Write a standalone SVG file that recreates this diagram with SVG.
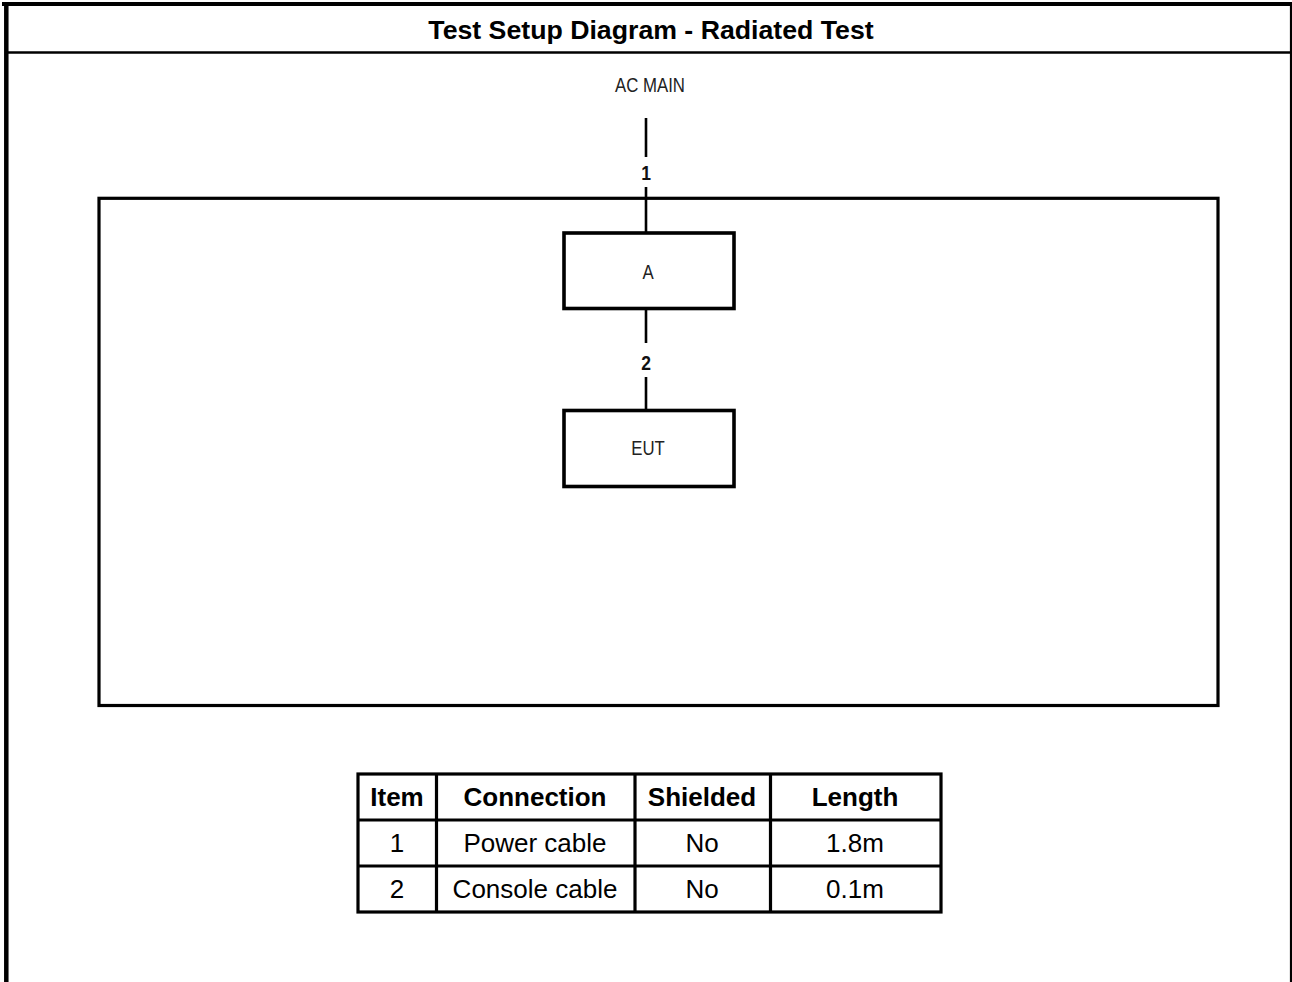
<svg xmlns="http://www.w3.org/2000/svg" width="1292" height="982" viewBox="0 0 1292 982">
<style>
.frame{stroke:#000;fill:none}
.box{fill:#fff;stroke:#000;stroke-width:3.6}
.wire{stroke:#000;stroke-width:2.6;fill:none}
.lbl{font-family:"Liberation Sans",Arial,sans-serif;font-size:16.8px;fill:#222;text-anchor:middle}
.num{font-family:"Liberation Sans",Arial,sans-serif;font-size:17.5px;font-weight:bold;fill:#111;text-anchor:middle}
.title{font-family:"Liberation Sans",Arial,sans-serif;font-size:26.7px;font-weight:bold;fill:#000;text-anchor:middle}
.th{font-family:"Liberation Sans",Arial,sans-serif;font-size:26px;font-weight:bold;fill:#000;text-anchor:middle}
.td{font-family:"Liberation Sans",Arial,sans-serif;font-size:26px;fill:#000;text-anchor:middle}
.tl{stroke:#000;stroke-width:3.2;fill:none}
</style>
<rect width="1292" height="982" fill="#fff"/>
<g id="frame">
<line class="frame" x1="2" y1="4" x2="1292" y2="4" stroke-width="4"/>
<line class="frame" x1="6.3" y1="2" x2="6.3" y2="982" stroke-width="4.5"/>
<line class="frame" x1="1291" y1="2" x2="1291" y2="982" stroke-width="2.2"/>
<line class="frame" x1="8" y1="52.5" x2="1290" y2="52.5" stroke-width="2.6"/>
<text class="title" x="651" y="39">Test Setup Diagram - Radiated Test</text>
</g>
<g id="enclosure">
<rect x="99" y="198.3" width="1119" height="507.2" fill="none" stroke="#000" stroke-width="3.2"/>
</g>
<g id="connectors">
<line class="wire" x1="646" y1="118" x2="646" y2="157"/>
<line class="wire" x1="646" y1="187" x2="646" y2="233"/>
<text class="num" transform="translate(646,180) scale(1,1.18)">1</text>
<line class="wire" x1="646" y1="308" x2="646" y2="343"/>
<line class="wire" x1="646" y1="377" x2="646" y2="410"/>
<text class="num" transform="translate(646,369.5) scale(1,1.18)">2</text>
</g>
<g id="ac-main">
<text class="lbl" transform="translate(650,91.5) scale(1,1.18)">AC MAIN</text>
</g>
<g id="node-a">
<rect class="box" x="564" y="233" width="170" height="75.5"/>
<text class="lbl" transform="translate(648,278.5) scale(1,1.18)">A</text>
</g>
<g id="node-eut">
<rect class="box" x="564" y="410.5" width="170" height="76"/>
<text class="lbl" transform="translate(648,455) scale(1,1.18)">EUT</text>
</g>
<g id="table">
<rect class="tl" x="358" y="774" width="583" height="138"/>
<line class="tl" x1="358" y1="820" x2="941" y2="820"/>
<line class="tl" x1="358" y1="866" x2="941" y2="866"/>
<line class="tl" x1="436.5" y1="774" x2="436.5" y2="912"/>
<line class="tl" x1="635" y1="774" x2="635" y2="912"/>
<line class="tl" x1="770.5" y1="774" x2="770.5" y2="912"/>
<text class="th" x="397" y="806">Item</text>
<text class="th" x="535" y="806">Connection</text>
<text class="th" x="702" y="806">Shielded</text>
<text class="th" x="855" y="806">Length</text>
<text class="td" x="397" y="852">1</text>
<text class="td" x="535" y="852">Power cable</text>
<text class="td" x="702" y="852">No</text>
<text class="td" x="855" y="852">1.8m</text>
<text class="td" x="397" y="898">2</text>
<text class="td" x="535" y="898">Console cable</text>
<text class="td" x="702" y="898">No</text>
<text class="td" x="855" y="898">0.1m</text>
</g>
</svg>
